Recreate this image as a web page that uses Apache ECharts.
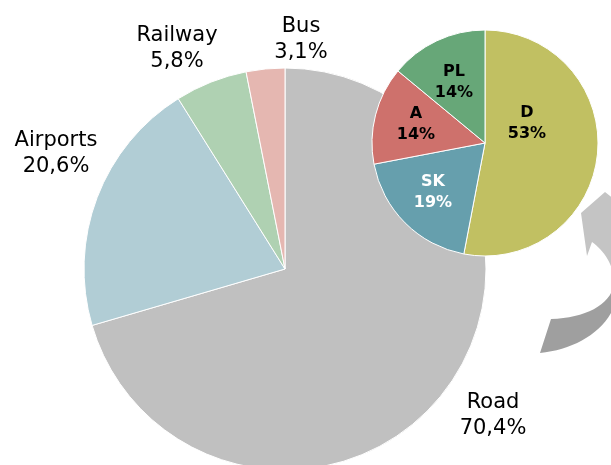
<!DOCTYPE html>
<html>
<head>
<meta charset="utf-8">
<script src="https://cdn.jsdelivr.net/npm/echarts@6/dist/echarts.min.js"></script>
<style>html,body{margin:0;padding:0;background:#fff}#c{width:611px;height:465px}</style>
</head>
<body>
<div id="c"></div>
<script>
// Main pie
const modes = ['Road', 'Airports', 'Railway', 'Bus'];
const modeShares = [70.4, 20.6, 5.8, 3.1];
const modeColors = ['#c0c0c0', '#b1cdd5', '#afd1b2', '#e5b7b1'];
// Detail pie
const countries = ['D', 'SK', 'A', 'PL'];
const countryShares = [53, 19, 14, 14];
const countryColors = ['#c1c062', '#669fad', '#ce716c', '#67a778'];

const bigLabelPos = [[493, 416], [56, 154], [177, 49], [301, 40]];
const smallLabelPos = [[527, 123], [433, 192], [416, 124], [454, 82]];

// decorative arrow helper: sample cubic bezier segments into polygon points
function bez(p0, p1, p2, p3, n) {
  const pts = [];
  for (let i = 0; i <= n; i++) {
    const t = i / n, u = 1 - t;
    pts.push([
      u*u*u*p0[0] + 3*u*u*t*p1[0] + 3*u*t*t*p2[0] + t*t*t*p3[0],
      u*u*u*p0[1] + 3*u*u*t*p1[1] + 3*u*t*t*p2[1] + t*t*t*p3[1]
    ]);
  }
  return pts;
}
const lightArrow = [].concat(
  bez([614,285],[615,265],[603,250],[592,242], 16),
  [[587,256],[581,213],[605,192],[640,220],[640,290],[614,290]]
);
const darkArrow = [].concat(
  bez([540,353],[570,350],[598,336],[611,313], 16),
  [[630,285],[614,285]],
  bez([614,285],[610,305],[585,318],[551,319], 16)
);

const chart = echarts.init(document.getElementById('c'), null, {renderer: 'canvas'});
chart.setOption({
  backgroundColor: '#ffffff',
  animation: false,
  graphic: [
    {type: 'polygon', z: 0, silent: true, shape: {points: lightArrow}, style: {fill: '#c4c4c4'}},
    {type: 'polygon', z: 0, silent: true, shape: {points: darkArrow}, style: {fill: '#9f9f9f'}}
  ],
  series: [
    {
      type: 'pie',
      center: [285, 269],
      radius: [0, 201],
      startAngle: 90,
      clockwise: true,
      silent: true,
      data: modes.map((n, i) => ({name: n, value: modeShares[i], itemStyle: {color: modeColors[i]}})),
      itemStyle: {borderColor: '#ffffff', borderWidth: 1},
      label: {
        show: true,
        position: 'inside',
        formatter: p => p.name + '\n' + p.value.toFixed(1).replace('.', ',') + '%',
        fontFamily: 'DejaVu Sans',
        fontSize: 21,
        lineHeight: 26,
        color: '#000',
        align: 'center'
      },
      labelLine: {show: false},
      labelLayout: p => ({x: bigLabelPos[p.dataIndex][0], y: bigLabelPos[p.dataIndex][1], align: 'center', verticalAlign: 'middle'})
    },
    {
      type: 'pie',
      center: [485, 143],
      radius: [0, 113],
      startAngle: 90,
      clockwise: true,
      silent: true,
      data: countries.map((n, i) => ({name: n, value: countryShares[i], itemStyle: {color: countryColors[i]},
        label: {color: n === 'SK' ? '#ffffff' : '#000000'}})),
      itemStyle: {borderColor: '#ffffff', borderWidth: 1},
      label: {
        show: true,
        position: 'inside',
        formatter: p => p.name + '\n' + p.value + '%',
        fontFamily: 'DejaVu Sans',
        fontWeight: 'bold',
        fontSize: 16,
        lineHeight: 21,
        align: 'center'
      },
      labelLine: {show: false},
      labelLayout: p => ({x: smallLabelPos[p.dataIndex][0], y: smallLabelPos[p.dataIndex][1], align: 'center', verticalAlign: 'middle'})
    }
  ]
});
</script>
</body>
</html>
